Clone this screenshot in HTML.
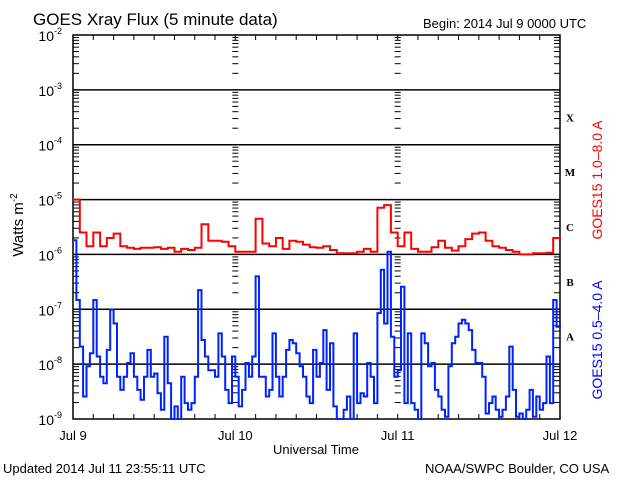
<!DOCTYPE html>
<html><head><meta charset="utf-8"><style>
html,body{margin:0;padding:0;background:#fff;}
svg{display:block;font-family:"Liberation Sans",sans-serif;}
</style></head><body>
<svg id="chart" width="640" height="480" xmlns="http://www.w3.org/2000/svg">
<rect width="640" height="480" fill="#fff"/>
<text x="33" y="25" font-size="17">GOES Xray Flux (5 minute data)</text>
<text x="423" y="28" font-size="13">Begin:  2014 Jul 9 0000 UTC</text>
<text x="3" y="473" font-size="13">Updated 2014 Jul 11 23:55:11 UTC</text>
<text x="425" y="473" font-size="13">NOAA/SWPC Boulder, CO USA</text>
<text x="316" y="454" font-size="13" text-anchor="middle">Universal Time</text>
<text transform="translate(23,225) rotate(-90)" font-size="15" text-anchor="middle">Watts m<tspan font-size="10" dy="-6">-2</tspan></text>
<text transform="translate(602,180) rotate(-90)" font-size="14" fill="#ff0000" text-anchor="middle">GOES15 1.0–8.0 A</text>
<text transform="translate(602,340) rotate(-90)" font-size="14" fill="#0000ff" text-anchor="middle">GOES15 0.5–4.0 A</text>
<g id="axes"></g>
<g id="series"></g>
</svg>
<script>
const dayLabels = ["Jul 9","Jul 10","Jul 11","Jul 12"];
const decadeExps = [-2,-3,-4,-5,-6,-7,-8,-9];
const classLetters = ["X","M","C","B","A"];
// GOES15 1.0-8.0 A, log10 flux, hourly from Jul 9 00:00
const longFlux = [-5.0,-5.6,-5.85,-5.6,-5.85,-5.7,-5.62,-5.85,-5.88,-5.9,-5.88,-5.88,-5.87,-5.9,-5.88,-5.95,-5.9,-5.92,-5.88,-5.45,-5.75,-5.75,-5.77,-5.85,
-5.95,-5.95,-5.95,-5.35,-5.8,-5.85,-5.7,-5.9,-5.75,-5.77,-5.82,-5.87,-5.88,-5.85,-5.92,-5.98,-5.98,-5.98,-5.95,-5.9,-5.95,-5.15,-5.1,-5.6,
-5.85,-5.6,-5.9,-5.95,-5.95,-5.87,-5.75,-5.88,-5.93,-5.85,-5.72,-5.62,-5.6,-5.75,-5.85,-5.88,-5.92,-5.95,-6.0,-6.0,-5.98,-5.98,-5.97,-5.7,-5.72];
// GOES15 0.5-4.0 A, log10 flux, half-hourly
const shortFlux = [-5.74,-6.83,-7.68,-8.59,-8.04,-7.80,-6.83,-7.86,-8.23,-8.35,-7.74,-7.01,-7.26,-8.23,-8.47,-8.23,-7.98,-7.80,-8.23,-8.47,-8.65,-8.23,-7.74,-8.23,-8.17,-8.53,-8.83,-7.50,-8.35,-9.0,-8.77,-9.0,-8.23,-8.71,-8.83,-8.71,-8.23,-6.65,-7.56,-7.86,-8.11,-8.11,-8.23,-7.44,-7.86,-8.47,-8.71,-7.86,
-8.23,-8.77,-8.47,-7.98,-8.23,-7.86,-6.40,-8.23,-8.23,-8.59,-8.47,-7.44,-8.23,-8.59,-8.23,-7.74,-7.56,-7.62,-7.80,-8.04,-8.23,-8.59,-8.71,-7.74,-8.23,-7.98,-7.38,-8.47,-7.62,-8.77,-9.0,-9.0,-8.83,-8.59,-9.0,-7.44,-8.71,-8.53,-8.59,-7.98,-8.23,-8.71,-7.07,-6.28,-7.26,-5.95,-7.50,-8.23,
-8.11,-6.59,-8.71,-7.44,-8.71,-8.83,-9.0,-7.44,-7.62,-8.04,-7.98,-8.47,-8.59,-8.83,-8.96,-8.04,-7.62,-7.50,-7.26,-7.19,-7.26,-7.38,-7.74,-7.98,-7.98,-8.23,-8.90,-8.71,-8.59,-8.83,-8.96,-8.83,-8.59,-7.68,-8.47,-8.96,-8.90,-9.0,-8.83,-8.47,-8.96,-8.59,-8.83,-8.71,-7.86,-8.71,-6.83,-7.32,-7.26];

const L=73,R=560,T=35,B=419;
const xOf=h=>L+(R-L)*h/72;
const yOf=e=>T+(B-T)*(-2-e)/7;
const NS="http://www.w3.org/2000/svg";
const ax=document.getElementById('axes'), se=document.getElementById('series');
function mk(tag,attrs,parent){const el=document.createElementNS(NS,tag);for(const k in attrs)el.setAttribute(k,attrs[k]);parent.appendChild(el);return el;}

const fr=mk('rect',{x:L,y:T,width:R-L,height:B-T,fill:'none',stroke:'#000','stroke-width':1.5},ax);


decadeExps.forEach(e=>{
  const y=yOf(e);
  if(e>-9&&e<-2){const g=mk('line',{x1:L,x2:R,y1:y,y2:y,stroke:'#000','stroke-width':1.5},ax);
    
    }
  const t=mk('text',{x:62,y:y+6,'font-size':14,'text-anchor':'end'},ax);
  
  
  t.textContent='10';
  const s=mk('tspan',{dy:-7,'font-size':9},t);s.textContent=String(e);
  if(e>-9){for(let m=2;m<=9;m++){
    const ym=yOf(e-1+Math.log10(m));
    [L,xOf(24),xOf(48),R].forEach((xx,i)=>{
      if(i===0) mk('line',{x1:xx,x2:xx+6,y1:ym,y2:ym,stroke:'#000'},ax);
      else if(i===3) mk('line',{x1:xx-6,x2:xx,y1:ym,y2:ym,stroke:'#000'},ax);
      else mk('line',{x1:xx-3,x2:xx+3,y1:ym,y2:ym,stroke:'#000'},ax);
    });
  }}
});
for(let h=3;h<72;h+=3){const x=xOf(h);
  mk('line',{x1:x,x2:x,y1:T,y2:T+5,stroke:'#000'},ax);
  mk('line',{x1:x,x2:x,y1:B,y2:B-5,stroke:'#000'},ax);}
dayLabels.forEach((d,i)=>{
  const t=mk('text',{x:xOf(i*24),y:440,'font-size':13,'text-anchor':'middle'},ax);
  
  
  t.textContent=d;});
classLetters.forEach((c,i)=>{
  const t=mk('text',{x:570,y:yOf(-3.5-i)+4,'font-size':11,'font-weight':'bold','font-family':'Liberation Serif, serif','text-anchor':'middle'},ax);
  
  
  t.textContent=c;});
function line(arr,step,color,name){
  let d='';arr.forEach((v,i)=>{const x=xOf(i*step),y=yOf(Math.max(-9,v));
    if(i===0) d+='M'+x.toFixed(1)+' '+y.toFixed(1);
    else d+='H'+x.toFixed(1)+'V'+y.toFixed(1);});
  const p=mk('path',{d:d,fill:'none',stroke:color,'stroke-width':2,'stroke-linejoin':'miter'},se);
  
  
}
line(longFlux,1,'#ff0000','long-channel-line');
line(shortFlux,0.5,'#0022ff','short-channel-line');
</script>
</body></html>
